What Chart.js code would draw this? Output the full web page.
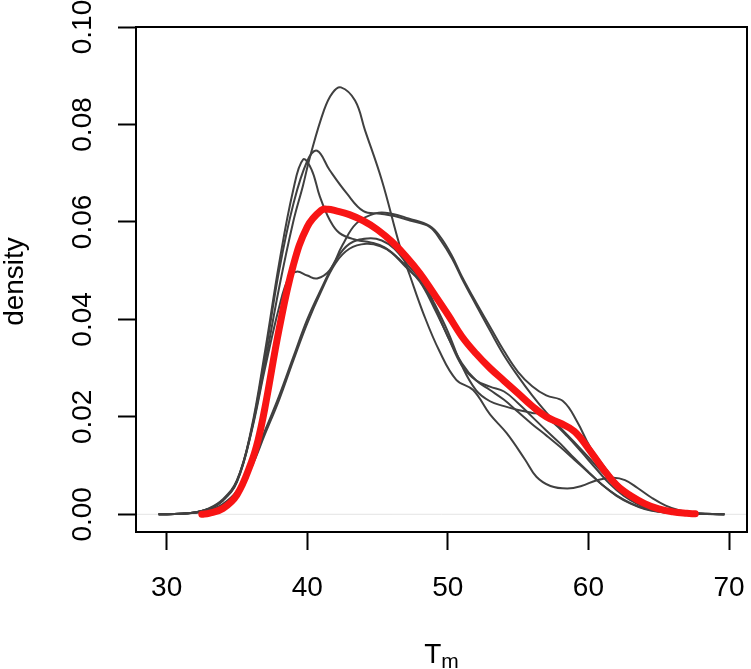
<!DOCTYPE html>
<html>
<head>
<meta charset="utf-8">
<script src="https://cdn.jsdelivr.net/npm/chart.js@4.4.1/dist/chart.umd.min.js"></script>
<style>
  html, body { margin: 0; padding: 0; background: #fff; }
  canvas { display: block; }
</style>
</head>
<body>
<canvas id="densityChart" width="751" height="669"></canvas>
<script>
// Tick positions and labels
const xTicks = [30, 40, 50, 60, 70];
const yTicks = [0, 0.02, 0.04, 0.06, 0.08, 0.10];
const yTickLabels = ['0.00', '0.02', '0.04', '0.06', '0.08', '0.10'];

// Axis limits (R pads the data range a little)
const xMin = 27.82, xMax = 71.28;
const yMin = -0.00363, yMax = 0.1;

// Grey density curves
// A: tall peak near 42, dip near 58
const curveA_x = [29.43, 31, 32, 33, 34, 35, 36, 37, 38, 39, 39.7, 40.2, 41.2, 41.8, 42.4, 43.4, 44.1, 45.3, 46.6, 47.3, 48.25, 49.4, 50.6, 51.8, 53, 54.2, 55.5, 56.3, 57.3, 58.5, 59.5, 60.6, 61.8, 62.6, 63.5, 64.5, 65.5, 66.5, 67.5, 68.5, 69.67];
const curveA_y = [0, 0.0001, 0.0004, 0.0012, 0.0031, 0.007, 0.0168, 0.031, 0.0465, 0.060, 0.0675, 0.0734, 0.083, 0.0865, 0.0876, 0.0849, 0.0789, 0.0686, 0.0549, 0.049, 0.0413, 0.0335, 0.0276, 0.0255, 0.0205, 0.0166, 0.0112, 0.0077, 0.0058, 0.0053, 0.0058, 0.0070, 0.0075, 0.0070, 0.0054, 0.0034, 0.0018, 0.0008, 0.0003, 0.0001, 0];

// B: peak near 40.7, shoulder near 47
const curveB_x = [29.43, 31, 32, 33, 34, 35, 36, 37, 38, 39, 40, 40.7, 41.6, 42.8, 44, 45.2, 46.2, 47.3, 48.7, 49.5, 50.3, 51, 52, 53, 54, 55, 56, 57, 58, 59, 60, 61, 62, 63, 64, 65, 66, 67, 68, 69.67];
const curveB_y = [0, 0.0001, 0.0004, 0.0011, 0.0028, 0.0066, 0.0168, 0.0325, 0.050, 0.0635, 0.0725, 0.0746, 0.0706, 0.0659, 0.0622, 0.0617, 0.0612, 0.0603, 0.059, 0.0562, 0.0525, 0.0484, 0.043, 0.0377, 0.0326, 0.0283, 0.0244, 0.0209, 0.0178, 0.0148, 0.0117, 0.0086, 0.0058, 0.0036, 0.002, 0.001, 0.0004, 0.0002, 0.0001, 0];

// C: peak near 39.7
const curveC_x = [29.43, 31, 32, 33, 34, 35, 36, 37, 38, 39, 39.7, 40.3, 40.9, 41.6, 42.3, 43.5, 44.5, 45.5, 46.5, 47.5, 48.2, 49, 50, 51, 52, 53, 54, 55, 56, 57, 58, 59, 60, 61, 62, 63, 64, 65, 66, 67, 69.67];
const curveC_y = [0, 0.0001, 0.0004, 0.0011, 0.0029, 0.0068, 0.0172, 0.0335, 0.0515, 0.0665, 0.0728, 0.0708, 0.0652, 0.0604, 0.0577, 0.0563, 0.0558, 0.0548, 0.0525, 0.0495, 0.0475, 0.043, 0.0365, 0.031, 0.0275, 0.0255, 0.0235, 0.021, 0.0185, 0.0162, 0.0138, 0.0112, 0.0086, 0.006, 0.0039, 0.0023, 0.0012, 0.0006, 0.0002, 0.0001, 0];

// D: small bump near 39, shoulder near 47, bump near 58
const curveD_x = [29.43, 31, 32, 33, 34, 35, 36, 37, 38, 38.7, 39.25, 40, 40.7, 41.6, 42.5, 43.5, 44.9, 46, 47.2, 48.7, 49.5, 50.3, 51, 52, 53, 54, 55, 56, 57, 58.2, 59.2, 60.1, 61.3, 62, 63, 64, 65, 66, 67, 68, 69.67];
const curveD_y = [0, 0.0001, 0.0004, 0.0011, 0.0029, 0.0068, 0.0165, 0.030, 0.0425, 0.0487, 0.0498, 0.049, 0.0484, 0.0501, 0.0552, 0.0597, 0.0618, 0.0617, 0.0607, 0.0592, 0.0568, 0.053, 0.0488, 0.0435, 0.0385, 0.0335, 0.0292, 0.0263, 0.0244, 0.0232, 0.0190, 0.0139, 0.0091, 0.0066, 0.0039, 0.0021, 0.001, 0.0004, 0.0002, 0.0001, 0];

// E: smooth single peak near 44
const curveE_x = [29.43, 31, 32, 33, 34, 35, 36, 37, 38, 39, 40, 41, 42, 43, 44.2, 45.2, 46, 47, 48, 49, 50, 51, 52, 53, 54, 55, 56, 57, 58, 59, 60, 61, 62, 63, 64, 65, 66, 67, 69.67];
const curveE_y = [0, 0.0001, 0.0003, 0.0008, 0.002, 0.0045, 0.0095, 0.0165, 0.0235, 0.0315, 0.0392, 0.0458, 0.0515, 0.0545, 0.0555, 0.055, 0.0537, 0.0508, 0.0478, 0.0425, 0.0365, 0.0305, 0.0275, 0.0262, 0.0252, 0.0228, 0.020, 0.0172, 0.0145, 0.0115, 0.0087, 0.006, 0.0038, 0.0022, 0.0011, 0.0005, 0.0002, 0.0001, 0];

// F: late riser, flat part near 55
const curveF_x = [29.43, 31, 32, 33, 34, 35, 36, 37, 38, 39, 40, 41, 42, 43, 44.3, 45.3, 46.2, 47.2, 48.2, 49, 50, 51, 52, 53, 54, 55, 56, 56.6, 57.5, 58.5, 59.5, 60.5, 61.5, 62.5, 63.5, 64.5, 65.5, 66.5, 67.5, 69.67];
const curveF_y = [0, 0.0001, 0.0003, 0.0008, 0.0021, 0.0048, 0.010, 0.0172, 0.0243, 0.0322, 0.040, 0.0463, 0.052, 0.0555, 0.0566, 0.0562, 0.0545, 0.051, 0.0478, 0.0435, 0.0375, 0.0305, 0.0255, 0.0232, 0.0222, 0.0214, 0.0208, 0.0205, 0.0188, 0.016, 0.0128, 0.0095, 0.0063, 0.0038, 0.0021, 0.001, 0.0004, 0.0002, 0.0001, 0];

// Red summary curve
const meanX = [32.5, 33, 34, 35, 36, 36.5, 37, 38, 39, 40, 41, 41.5, 42, 43, 44, 45, 46, 47, 48, 49, 50, 51, 52, 53, 54, 55, 56, 57, 58, 59, 60, 61, 62, 63, 64, 65, 66, 67, 67.6];
const meanY = [0, 0.0002, 0.0012, 0.004, 0.0105, 0.0152, 0.022, 0.038, 0.051, 0.059, 0.0624, 0.0626, 0.0623, 0.0615, 0.0602, 0.0584, 0.056, 0.053, 0.0495, 0.0453, 0.041, 0.0365, 0.033, 0.030, 0.0274, 0.0248, 0.0222, 0.020, 0.0187, 0.017, 0.0135, 0.0095, 0.006, 0.0038, 0.0022, 0.0011, 0.0005, 0.0002, 0.0001];

const toPoints = (xs, ys) => xs.map((x, i) => ({ x: x, y: ys[i] }));

const greyCurves = [
    [curveA_x, curveA_y],
    [curveB_x, curveB_y],
    [curveC_x, curveC_y],
    [curveD_x, curveD_y],
    [curveE_x, curveE_y],
    [curveF_x, curveF_y]
];

const fontFamily = '"Liberation Sans", Arial, Helvetica, sans-serif';

const datasets = [{
    data: toPoints(meanX, meanY),
    borderColor: '#f81414',
    borderWidth: 7,
    borderCapStyle: 'round',
    borderJoinStyle: 'round',
    pointRadius: 0,
    tension: 0.4,
    order: 0
}];
greyCurves.forEach(([xs, ys]) => {
    datasets.push({
        data: toPoints(xs, ys),
        borderColor: '#404040',
        borderWidth: 2,
        pointRadius: 0,
        tension: 0.4,
        order: 1
    });
});
// thin grey zero line across the plot
datasets.push({
    data: [{ x: xMin, y: 0 }, { x: xMax, y: 0 }],
    borderColor: '#e4e4e4',
    borderWidth: 1,
    pointRadius: 0,
    order: 2
});

// Box, rotated y tick labels and axis titles, drawn the way R does
const frameAndLabels = {
    id: 'frameAndLabels',
    afterDraw(chart) {
        const { ctx, chartArea, scales } = chart;
        ctx.save();
        ctx.strokeStyle = '#000';
        ctx.lineWidth = 2;
        ctx.strokeRect(chartArea.left, chartArea.top, chartArea.right - chartArea.left, chartArea.bottom - chartArea.top);

        ctx.fillStyle = '#000';
        ctx.font = '28px ' + fontFamily;
        ctx.textAlign = 'center';
        ctx.textBaseline = 'middle';
        yTicks.forEach((v, i) => {
            const py = scales.y.getPixelForValue(v);
            ctx.save();
            ctx.translate(83, py);
            ctx.rotate(-Math.PI / 2);
            ctx.fillText(yTickLabels[i], 0, 0);
            ctx.restore();
        });

        // y title
        const midY = (chartArea.top + chartArea.bottom) / 2;
        ctx.save();
        ctx.translate(23, midY + 2);
        ctx.rotate(-Math.PI / 2);
        ctx.textBaseline = 'alphabetic';
        ctx.fillText('density', 0, 0);
        ctx.restore();

        // x title: T with subscript m
        const midX = (chartArea.left + chartArea.right) / 2;
        ctx.textAlign = 'left';
        ctx.textBaseline = 'alphabetic';
        ctx.font = '28px ' + fontFamily;
        const wT = ctx.measureText('T').width;
        ctx.font = '21px ' + fontFamily;
        const wM = ctx.measureText('m').width;
        const startX = midX - (wT + wM) / 2;
        ctx.font = '28px ' + fontFamily;
        ctx.fillText('T', startX, 663);
        ctx.font = '21px ' + fontFamily;
        ctx.fillText('m', startX + wT, 668);
        ctx.restore();
    }
};

new Chart(document.getElementById('densityChart'), {
    type: 'line',
    data: { datasets: datasets },
    options: {
        responsive: false,
        animation: false,
        events: [],
        layout: { padding: { top: 27, right: 4, left: 0, bottom: 0 } },
        plugins: {
            legend: { display: false },
            tooltip: { enabled: false }
        },
        scales: {
            x: {
                type: 'linear',
                min: xMin,
                max: xMax,
                afterBuildTicks: (scale) => { scale.ticks = xTicks.map(v => ({ value: v })); },
                afterFit: (scale) => {
                    scale.height = 137;
                    scale.paddingLeft = 0;
                    scale.paddingRight = 0;
                },
                border: { display: false },
                grid: {
                    drawOnChartArea: false,
                    drawTicks: true,
                    tickLength: 18,
                    tickColor: '#000',
                    tickWidth: 2
                },
                ticks: {
                    color: '#000',
                    font: { family: fontFamily, size: 28 },
                    padding: 21,
                    maxRotation: 0,
                    minRotation: 0,
                    autoSkip: false
                }
            },
            y: {
                type: 'linear',
                min: yMin,
                max: yMax,
                afterBuildTicks: (scale) => { scale.ticks = yTicks.map(v => ({ value: v })); },
                afterFit: (scale) => {
                    scale.width = 136;
                    scale.paddingTop = 0;
                    scale.paddingBottom = 0;
                },
                border: { display: false },
                grid: {
                    drawOnChartArea: false,
                    drawTicks: true,
                    tickLength: 18,
                    tickColor: '#000',
                    tickWidth: 2
                },
                ticks: { display: false }
            }
        }
    },
    plugins: [frameAndLabels]
});
</script>
</body>
</html>
